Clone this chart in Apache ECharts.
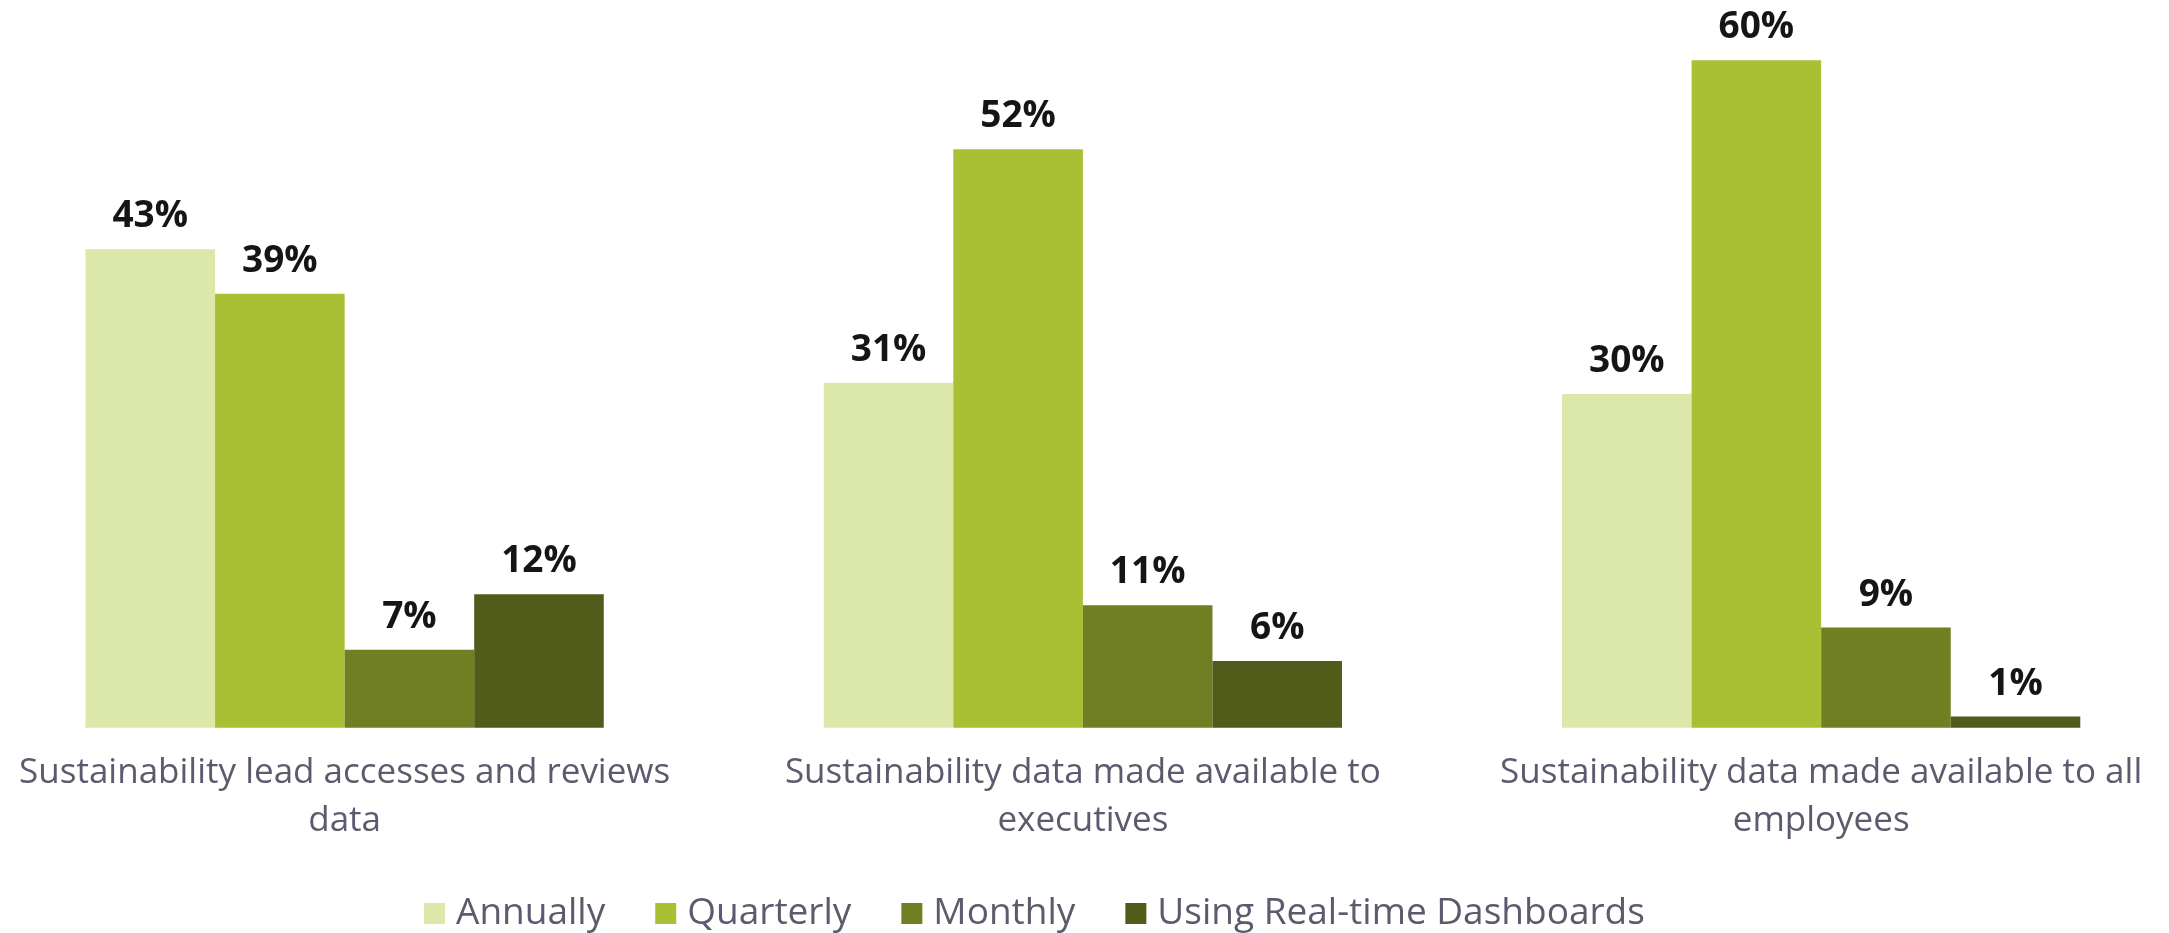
<!DOCTYPE html>
<html>
<head>
<meta charset="utf-8">
<script src="https://cdn.jsdelivr.net/npm/echarts@6/dist/echarts.min.js"></script>
<style>
  html, body { margin: 0; padding: 0; background: #ffffff; }
  #chart { width: 2169px; height: 933px; }
</style>
</head>
<body>
<div id="chart"></div>
<script>
// How often sustainability data is accessed / shared, by audience (percent of respondents)
const categories = [
  'Sustainability lead accesses and reviews\ndata',
  'Sustainability data made available to\nexecutives',
  'Sustainability data made available to all\nemployees'
];
const seriesNames = ['Annually', 'Quarterly', 'Monthly', 'Using Real-time Dashboards'];
const annually = [43, 31, 30];
const quarterly = [39, 52, 60];
const monthly = [7, 11, 9];
const dashboards = [12, 6, 1];
const seriesColors = ['#dce7aa', '#a9bf34', '#717f23', '#515b1a'];

const valueSets = [annually, quarterly, monthly, dashboards];
const FONT = '"Open Sans", Lato, sans-serif';
const TEXT_GREY = '#5c5b6e';

const chart = echarts.init(document.getElementById('chart'), null, { renderer: 'canvas' });

chart.setOption({
  backgroundColor: '#ffffff',
  animation: false,
  // the plot area runs slightly past both canvas edges so the outer groups sit near the borders
  grid: {
    left: -24.5, right: -21.3, top: 60.2, bottom: 205.3,
    outerBoundsMode: 'none'
  },
  legend: {
    data: seriesNames,
    bottom: -4,
    left: 419,
    icon: 'rect',
    itemWidth: 21,
    itemHeight: 21,
    itemGap: 50,
    textStyle: { fontFamily: FONT, fontSize: 37, color: TEXT_GREY, padding: [0, 0, 0, 6] }
  },
  xAxis: {
    type: 'category',
    data: categories,
    axisLine: { show: false },
    axisTick: { show: false },
    axisLabel: {
      interval: 0,
      margin: 21,
      fontFamily: FONT,
      fontSize: 35,
      lineHeight: 48,
      color: TEXT_GREY,
      align: 'center'
    }
  },
  yAxis: {
    type: 'value',
    min: 0,
    max: 60,
    show: false,
    splitLine: { show: false }
  },
  series: valueSets.map((vals, i) => ({
    name: seriesNames[i],
    type: 'bar',
    data: vals,
    barGap: '0%',
    barCategoryGap: '29.8%',
    itemStyle: { color: seriesColors[i] },
    label: {
      show: true,
      position: 'top',
      distance: 14,
      formatter: p => p.value + '%',
      fontFamily: FONT,
      fontWeight: 'bold',
      fontSize: 37,
      color: '#151515'
    }
  }))
});
</script>
</body>
</html>
